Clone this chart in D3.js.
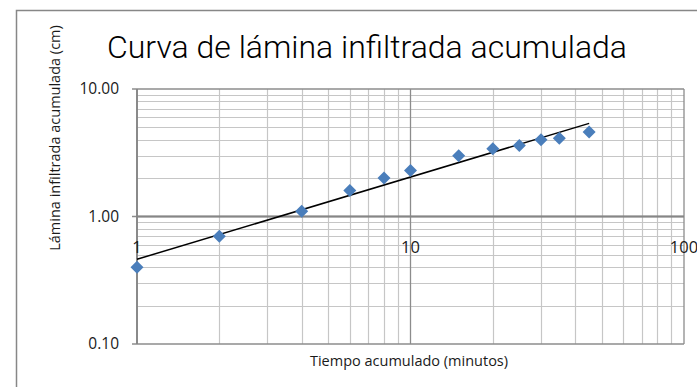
<!DOCTYPE html>
<html>
<head>
<meta charset="utf-8">
<script src="https://cdn.jsdelivr.net/npm/d3@7"></script>
<style>
  body { margin: 0; background: #fff; }
  text { font-family: "Open Sans", "Noto Sans", sans-serif; fill: #1a1a1a; }
</style>
</head>
<body>
<svg id="chart" width="697" height="387"></svg>
<script>
// Infiltration test: cumulative time (min) vs cumulative infiltrated depth (cm)
const tiempo = [1, 2, 4, 6, 8, 10, 15, 20, 25, 30, 35, 45];
const lamina = [0.40, 0.70, 1.10, 1.60, 2.00, 2.30, 3.00, 3.40, 3.60, 4.00, 4.10, 4.60];
const xTicks = [1, 10, 100];
const xTickLabels = ["1", "10", "100"];
const yTicks = [0.1, 1, 10];
const yTickLabels = ["0.10", "1.00", "10.00"];

const svg = d3.select("#chart");
const W = 697, H = 387;
const plot = { left: 137, right: 684, top: 89, bottom: 344 };

const x = d3.scaleLog().domain([1, 100]).range([plot.left, plot.right]);
const y = d3.scaleLog().domain([0.1, 10]).range([plot.bottom, plot.top]);

// chart frame
svg.append("rect")
  .attr("x", 16.5).attr("y", 10.5)
  .attr("width", W).attr("height", H)
  .attr("fill", "#fff").attr("stroke", "#878787").attr("stroke-width", 1.5);

// minor grid values (2..9 within each decade)
const minor = (lo, hi) => {
  const out = [];
  for (let d = lo; d < hi; d *= 10) for (let k = 2; k <= 9; k++) out.push(d * k);
  return out;
};
const minorX = minor(1, 100);
const minorY = minor(0.1, 10);

const grid = svg.append("g");
grid.selectAll(".mx").data(minorX).join("line")
  .attr("x1", d => Math.round(x(d)) + 0.5).attr("x2", d => Math.round(x(d)) + 0.5)
  .attr("y1", plot.top).attr("y2", plot.bottom)
  .attr("stroke", "#c6c6c6").attr("stroke-width", 1.2);
grid.selectAll(".my").data(minorY).join("line")
  .attr("y1", d => Math.round(y(d)) + 0.5).attr("y2", d => Math.round(y(d)) + 0.5)
  .attr("x1", plot.left).attr("x2", plot.right)
  .attr("stroke", "#c6c6c6").attr("stroke-width", 1.2);

// major grid
grid.selectAll(".Mx").data(xTicks).join("line")
  .attr("x1", d => x(d)).attr("x2", d => x(d))
  .attr("y1", plot.top).attr("y2", plot.bottom)
  .attr("stroke", "#8c8c8c").attr("stroke-width", 1.3);
grid.selectAll(".My").data(yTicks).join("line")
  .attr("y1", d => y(d)).attr("y2", d => y(d))
  .attr("x1", plot.left - 5).attr("x2", plot.right)
  .attr("stroke", "#8c8c8c").attr("stroke-width", 1.3);

// axes: y axis at x = 1, x axis crossing at y = 1
svg.append("line")
  .attr("x1", x(1)).attr("x2", x(1)).attr("y1", plot.top).attr("y2", plot.bottom)
  .attr("stroke", "#868686").attr("stroke-width", 1.8);
svg.append("line")
  .attr("x1", plot.left).attr("x2", plot.right).attr("y1", y(1)).attr("y2", y(1))
  .attr("stroke", "#868686").attr("stroke-width", 2);

// y tick labels
svg.append("g").selectAll("text").data(yTicks).join("text")
  .attr("x", plot.left - 18).attr("y", d => y(d))
  .attr("dy", "0.35em").attr("text-anchor", "end")
  .attr("font-size", 15.5)
  .text((d, i) => yTickLabels[i]);

// x tick labels, just under the axis at y = 1
svg.append("g").selectAll("text").data(xTicks).join("text")
  .attr("x", d => x(d)).attr("y", y(1) + 36)
  .attr("text-anchor", "middle")
  .attr("font-size", 16.5)
  .text((d, i) => xTickLabels[i]);

// power-law trend line fitted in log-log space
const lx = tiempo.map(Math.log10), ly = lamina.map(Math.log10);
const mx = d3.mean(lx), my = d3.mean(ly);
const b = d3.sum(lx, (v, i) => (v - mx) * (ly[i] - my)) / d3.sum(lx, v => (v - mx) ** 2);
const a = Math.pow(10, my - b * mx);
const fit = t => a * Math.pow(t, b);
const t0 = d3.min(tiempo), t1 = d3.max(tiempo);
svg.append("line")
  .attr("x1", x(t0)).attr("y1", y(fit(t0)))
  .attr("x2", x(t1)).attr("y2", y(fit(t1)))
  .attr("stroke", "#000").attr("stroke-width", 1.5);

// data markers (diamonds)
svg.append("g").selectAll("path").data(tiempo).join("path")
  .attr("transform", (d, i) => `translate(${x(d)},${y(lamina[i])})`)
  .attr("d", "M0,-6.5L6.5,0L0,6.5L-6.5,0Z")
  .attr("fill", "#4a7ebb");

// titles
svg.append("text")
  .attr("x", 107).attr("y", 58)
  .style("font-family", '"Roboto", "Open Sans", sans-serif')
  .style("font-weight", 300)
  .style("fill", "#000")
  .attr("font-size", 31.5)
  .attr("textLength", 520)
  .attr("lengthAdjust", "spacingAndGlyphs")
  .text("Curva de lámina infiltrada acumulada");

svg.append("text")
  .attr("x", 409).attr("y", 366).attr("text-anchor", "middle")
  .attr("font-size", 14.5)
  .text("Tiempo acumulado (minutos)");

svg.append("text")
  .attr("transform", "translate(60,138) rotate(-90)")
  .attr("text-anchor", "middle")
  .attr("font-size", 14.5)
  .text("Lámina infiltrada acumulada (cm)");
</script>
</body>
</html>
